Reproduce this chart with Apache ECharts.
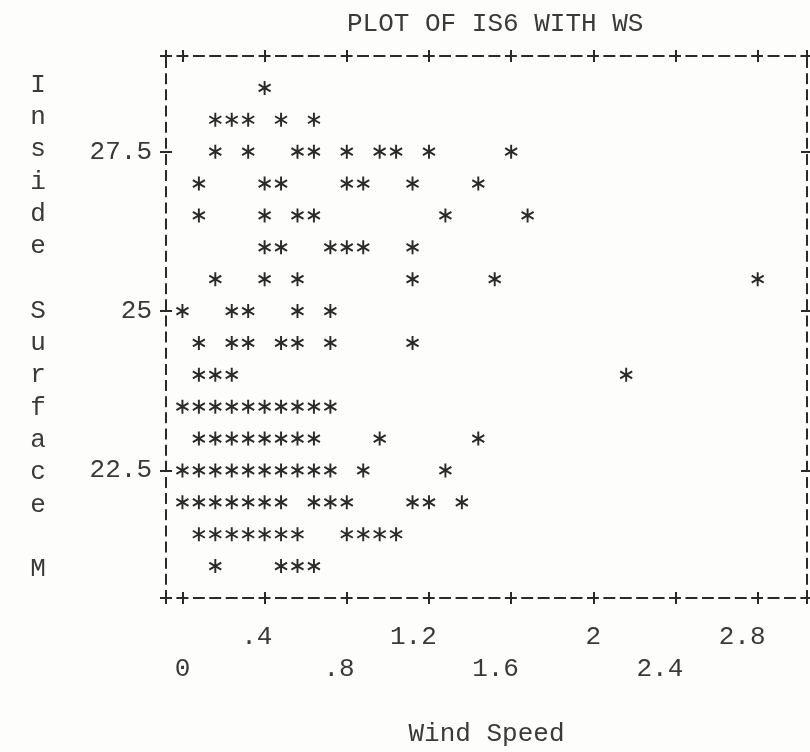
<!DOCTYPE html>
<html>
<head>
<meta charset="utf-8">
<title>PLOT OF IS6 WITH WS</title>
<script src="https://cdn.jsdelivr.net/npm/echarts@6/dist/echarts.min.js"></script>
<style>
  html, body { margin: 0; padding: 0; background: #fdfdfc; }
  #chart { width: 810px; height: 752px; }
</style>
</head>
<body>
<div id="chart"></div>
<script>
// one print line per IS6 level, wind speeds of the points on that line
const is6Levels = [28.5, 28.0, 27.5, 27.0, 26.5, 26.0, 25.5, 25.0, 24.5, 24.0, 23.5, 23.0, 22.5, 22.0, 21.5, 21.0];
const wsAtLevel = [
  [0.40],
  [0.16, 0.24, 0.32, 0.48, 0.64],
  [0.16, 0.32, 0.56, 0.64, 0.80, 0.96, 1.04, 1.20, 1.60],
  [0.08, 0.40, 0.48, 0.80, 0.88, 1.12, 1.44],
  [0.08, 0.40, 0.56, 0.64, 1.28, 1.68],
  [0.40, 0.48, 0.72, 0.80, 0.88, 1.12],
  [0.16, 0.40, 0.56, 1.12, 1.52, 2.80],
  [0.00, 0.24, 0.32, 0.56, 0.72],
  [0.08, 0.24, 0.32, 0.48, 0.56, 0.72, 1.12],
  [0.08, 0.16, 0.24, 2.16],
  [0.00, 0.08, 0.16, 0.24, 0.32, 0.40, 0.48, 0.56, 0.64, 0.72],
  [0.08, 0.16, 0.24, 0.32, 0.40, 0.48, 0.56, 0.64, 0.96, 1.44],
  [0.00, 0.08, 0.16, 0.24, 0.32, 0.40, 0.48, 0.56, 0.64, 0.72, 0.88, 1.28],
  [0.00, 0.08, 0.16, 0.24, 0.32, 0.40, 0.48, 0.64, 0.72, 0.80, 1.12, 1.20, 1.36],
  [0.08, 0.16, 0.24, 0.32, 0.40, 0.48, 0.56, 0.80, 0.88, 0.96, 1.04],
  [0.16, 0.48, 0.56, 0.64]
];
const xTicks = [-0.08, 0, 0.4, 0.8, 1.2, 1.6, 2.0, 2.4, 2.8, 3.04];
const xLabelsUpper = [0.4, 1.2, 2.0, 2.8];
const xLabelsLower = [0, 0.8, 1.6, 2.4];
const yTicks = [20.5, 22.5, 25, 27.5, 29];
const yLabels = [22.5, 25, 27.5];
const yName = ['I', 'n', 's', 'i', 'd', 'e', ' ', 'S', 'u', 'r', 'f', 'a', 'c', 'e', ' ', 'M'];

const ink = '#2a2a2a';
const textInk = '#3a3a3a';
const mono = 'Liberation Mono';

let points = [];
is6Levels.forEach((lvl, i) => {
  wsAtLevel[i].forEach(ws => points.push([ws, lvl]));
});

// typewriter asterisk
const star = 'path://M-1.4,-10 L1.4,-10 L1.4,10 L-1.4,10 Z' +
  'M-9.36,-3.79 L-7.96,-6.21 L9.36,3.79 L7.96,6.21 Z' +
  'M-7.96,6.21 L-9.36,3.79 L7.96,-6.21 L9.36,-3.79 Z';

// printer style number: drop the leading zero, pad so the last digit sits on the tick
function printNum(v) {
  let s = String(+v.toFixed(2));
  if (s.startsWith('0.')) s = s.slice(1);
  return s + ' '.repeat(s.length - 1);
}

const xMin = -0.08, xMax = 3.04, yMin = 20.5, yMax = 29;

function xAxisPart(pos, inside, labels, margin, extra) {
  return Object.assign({
    type: 'value', position: pos, min: xMin, max: xMax,
    splitLine: {show: false},
    axisLine: {show: true, onZero: false, lineStyle: {color: ink, width: 2, type: [10, 6.42], dashOffset: 5}},
    axisTick: {show: true, inside: inside, length: 6, customValues: xTicks, lineStyle: {color: ink, width: 2}},
    axisLabel: labels ? {
      customValues: labels, margin: margin, formatter: printNum,
      color: textInk, fontFamily: mono, fontSize: 26
    } : {show: false}
  }, extra || {});
}

function yAxisPart(pos, inside, labels, extra) {
  return Object.assign({
    type: 'value', position: pos, min: yMin, max: yMax,
    splitLine: {show: false},
    axisLine: {show: true, onZero: false, lineStyle: {color: ink, width: 2, type: [9, 7.15], dashOffset: 2}},
    axisTick: {show: true, inside: inside, length: 6, customValues: yTicks, lineStyle: {color: ink, width: 2}},
    axisLabel: labels ? {
      customValues: labels, margin: 14, formatter: v => String(v),
      color: textInk, fontFamily: mono, fontSize: 26
    } : {show: false}
  }, extra || {});
}

const chart = echarts.init(document.getElementById('chart'));
chart.setOption({
  backgroundColor: '#fdfdfc',
  animation: false,
  title: {
    text: 'PLOT OF IS6 WITH WS',
    left: 342, top: 6,
    textStyle: {color: textInk, fontFamily: mono, fontSize: 26, fontWeight: 'normal'}
  },
  grid: {left: 166, right: 3, top: 56, bottom: 147, show: false},
  xAxis: [
    xAxisPart('bottom', false, xLabelsLower, 58, {
      name: 'Wind Speed', nameLocation: 'middle', nameGap: 136,
      nameTextStyle: {color: textInk, fontFamily: mono, fontSize: 26, verticalAlign: 'middle'}
    }),
    xAxisPart('bottom', true, xLabelsUpper, 26),
    xAxisPart('top', false, null),
    xAxisPart('top', true, null)
  ],
  yAxis: [
    yAxisPart('left', false, yLabels, {
      name: yName.join('\n'), nameLocation: 'middle', nameGap: 128, nameRotate: 0,
      nameTextStyle: {color: textInk, fontFamily: mono, fontSize: 26, lineHeight: 32.3, align: 'center', verticalAlign: 'middle'}
    }),
    yAxisPart('left', true, null),
    yAxisPart('right', false, null),
    yAxisPart('right', true, null)
  ],
  series: [{
    type: 'scatter',
    xAxisIndex: 0,
    yAxisIndex: 0,
    symbol: star,
    symbolSize: [13, 14],
    itemStyle: {color: ink, opacity: 1},
    data: points
  }]
});
</script>
</body>
</html>
